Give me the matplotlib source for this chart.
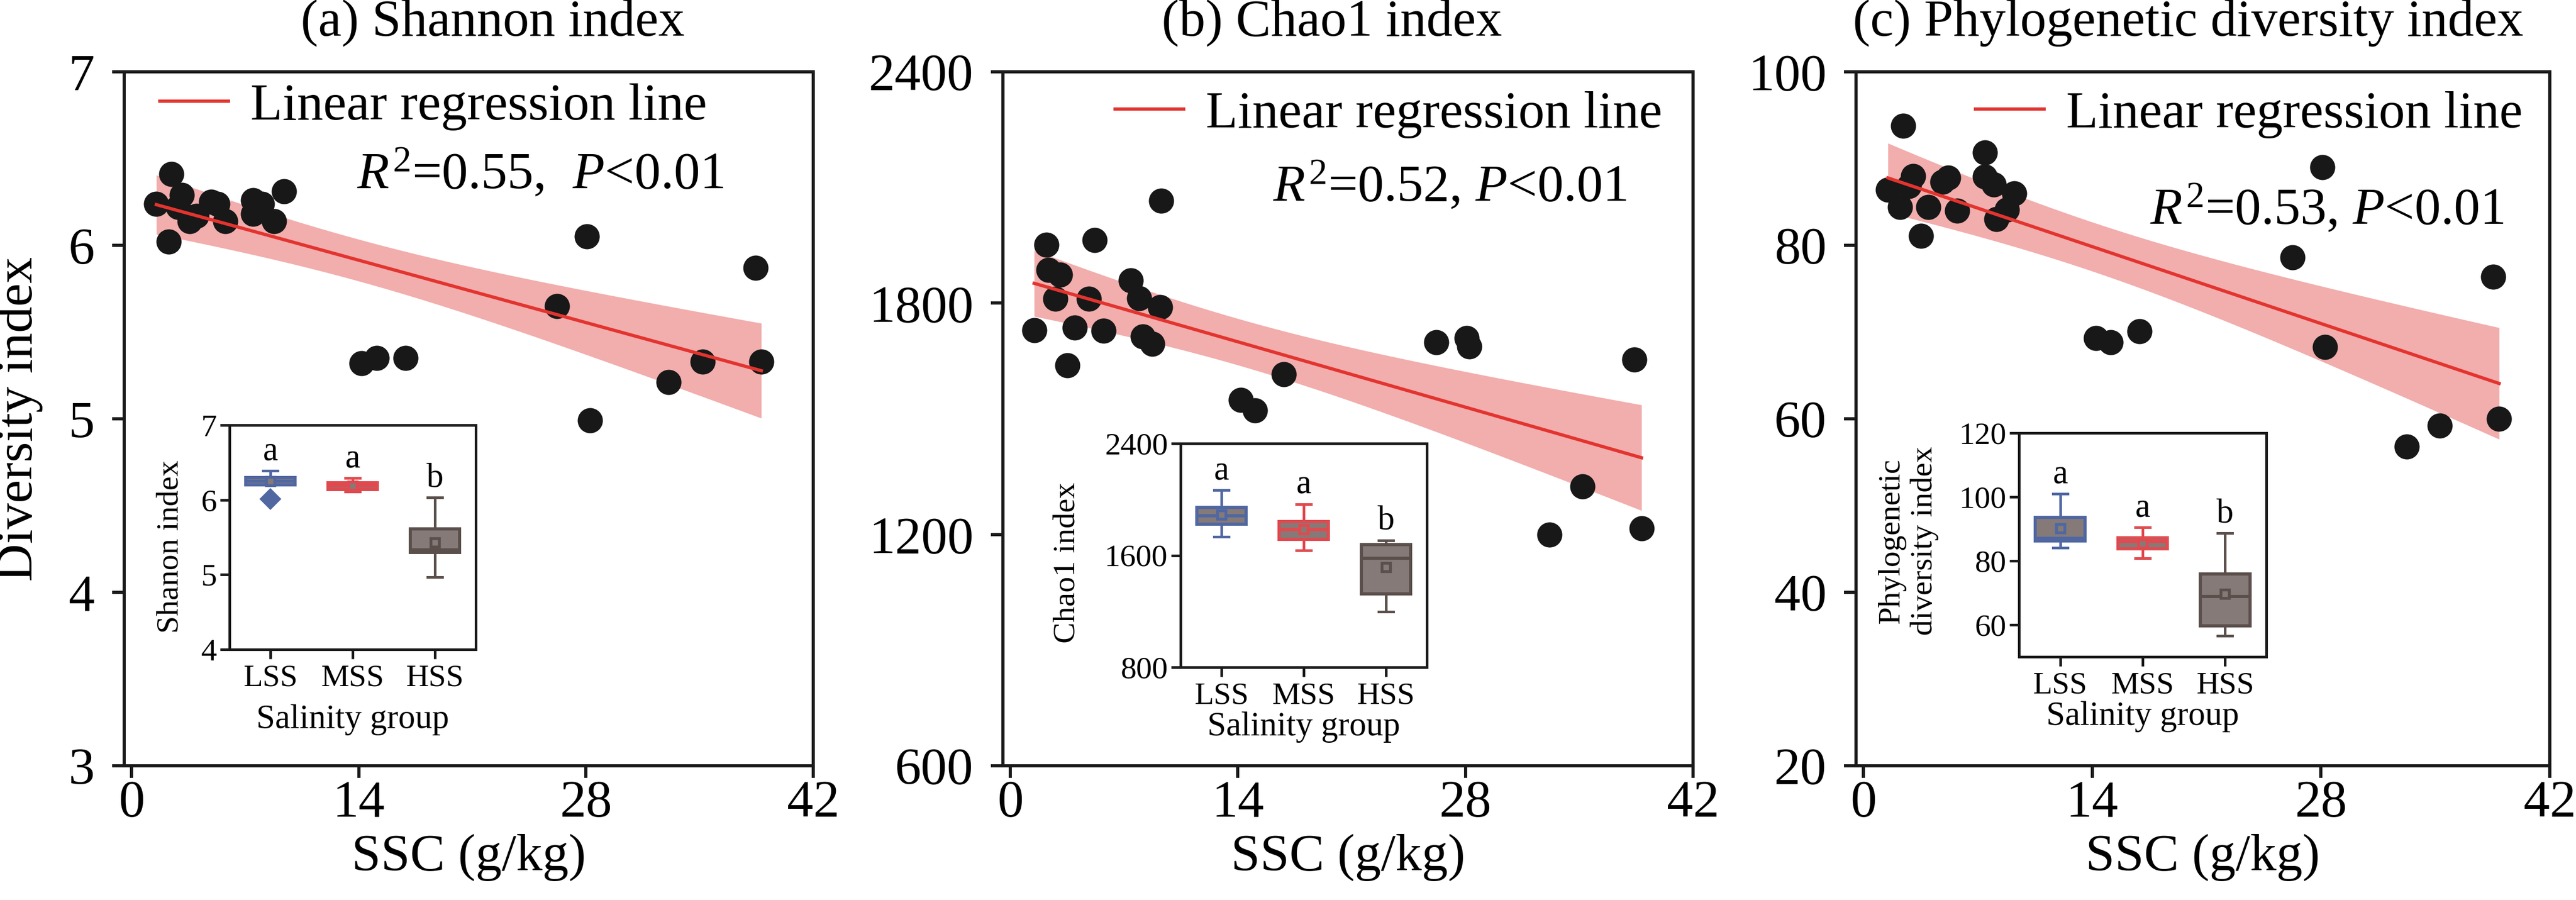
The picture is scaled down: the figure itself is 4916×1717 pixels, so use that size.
import numpy as np
import matplotlib
matplotlib.use("Agg")
import matplotlib.pyplot as plt

plt.rcParams['font.family'] = ['Liberation Serif', 'DejaVu Serif']
plt.rcParams['mathtext.fontset'] = 'custom'
plt.rcParams['mathtext.rm'] = 'Liberation Serif'
plt.rcParams['mathtext.it'] = 'Liberation Serif:italic'

# ---- scatter data (SSC vs index) ----
ssc_a = [2.46, 1.53, 3.09, 2.28, 2.87, 3.57, 4.00, 4.91, 5.29, 5.77, 7.49, 8.03, 7.49, 8.78, 9.38, 7.70,
         14.17, 15.11, 16.87, 26.2, 28.07, 28.24, 33.1, 35.2, 38.46, 38.8]
shannon = [6.41, 6.24, 6.29, 6.02, 6.22, 6.14, 6.17, 6.25, 6.24, 6.14, 6.26, 6.24, 6.18, 6.14, 6.31, 6.20,
           5.32, 5.35, 5.35, 5.65, 6.05, 4.99, 5.21, 5.33, 5.87, 5.33]

ssc_b = [9.29, 2.22, 5.18, 2.37, 3.05, 2.76, 4.84, 7.43, 7.92, 9.22, 1.47, 3.95, 5.73, 8.17, 8.73, 3.51,
         16.83, 14.18, 15.05, 26.2, 28.07, 28.24, 33.17, 35.19, 38.39, 38.83]
chao1 = [2065, 1951, 1963, 1886, 1874, 1812, 1812, 1859, 1813, 1790, 1730, 1737, 1728, 1713, 1695, 1638,
         1616, 1549, 1522, 1699, 1709, 1687, 1199, 1324, 1654, 1216]

ssc_c = [2.42, 7.45, 3.06, 1.50, 4.85, 5.20, 7.45, 7.98, 9.24, 2.23, 3.96, 5.73, 8.78, 8.14, 3.53, 2.79,
         14.25, 15.12, 16.9, 26.27, 28.09, 28.26, 33.24, 35.26, 38.53, 38.9]
pd_index = [93.8, 90.7, 88.0, 86.4, 87.3, 87.8, 87.9, 87.0, 86.0, 84.4, 84.4, 84.0, 84.1, 83.0, 81.1, 86.8,
            69.3, 68.8, 70.1, 78.6, 89.0, 68.3, 56.8, 59.2, 76.4, 60.0]

# ---- inset box statistics: [whislo, q1, med, q3, whishi, mean] for LSS, MSS, HSS ----
groups = ["LSS", "MSS", "HSS"]
letters = ["a", "a", "b"]
shannon_box = [[6.20, 6.20, 6.25, 6.30, 6.39, 6.25],
               [6.11, 6.14, 6.19, 6.23, 6.29, 6.19],
               [4.97, 5.30, 5.33, 5.61, 6.03, 5.43]]
shannon_fliers = [[6.01], [], []]
chao1_box = [[1732, 1822, 1882, 1943, 2067, 1892],
             [1636, 1713, 1786, 1842, 1967, 1786],
             [1198, 1325, 1579, 1678, 1708, 1514]]
pd_box = [[84.1, 86.3, 87.0, 93.6, 101.0, 90.1],
          [80.8, 83.8, 86.0, 87.2, 90.5, 85.4],
          [56.5, 59.6, 68.9, 75.9, 88.7, 69.6]]

box_edge = ['#5067a2', '#e04a4f', '#5a4f4b']
box_face = '#857a77'
red = '#e3342f'
band = '#f2adad'
dot = '#181818'

W, H = 4916, 1717
fig = plt.figure(figsize=(W / 300, H / 300), dpi=300)


def fit_band(x, y, xs):
    # least squares line with 95% confidence band of the mean
    x = np.asarray(x, float)
    y = np.asarray(y, float)
    n = len(x)
    b, a = np.polyfit(x, y, 1)
    yfit = a + b * xs
    s = np.sqrt(np.sum((y - (a + b * x)) ** 2) / (n - 2))
    se = s * np.sqrt(1 / n + (xs - x.mean()) ** 2 / np.sum((x - x.mean()) ** 2))
    return yfit, yfit - 2.07 * se, yfit + 2.07 * se


def main_panel(rect, x, y, ylim, yticks, title, tx, leg_xy, r2, r2_xy):
    ax = fig.add_axes(rect)
    xs = np.linspace(min(x), max(x), 100)
    yfit, lo, hi = fit_band(x, y, xs)
    ax.fill_between(xs, lo, hi, color=band, lw=0, zorder=1)
    ax.scatter(x, y, s=133, color=dot, lw=0, zorder=2)
    line, = ax.plot(xs, yfit, color=red, lw=1.5, zorder=3)
    ax.set_xlim(-0.45, 42)
    ax.set_ylim(*ylim)
    ax.set_xticks([0, 14, 28, 42])
    ax.set_yticks(yticks)
    for sp in ax.spines.values():
        sp.set_linewidth(1.45)
        sp.set_color('#1a1a1a')
    ax.tick_params(direction='out', length=5.5, width=1.45, labelsize=24, color='#1a1a1a')
    ax.tick_params(axis='y', pad=8)
    ax.tick_params(axis='x', pad=1)
    ax.set_xlabel('SSC (g/kg)', fontsize=24, labelpad=3)
    ax.text(tx, 1.052, title, transform=ax.transAxes, ha='center', va='baseline', fontsize=24)
    ax.legend([line], ['Linear regression line'], loc='center left', bbox_to_anchor=leg_xy,
              frameon=False, fontsize=24, handlelength=1.31, handletextpad=0.42,
              borderpad=0, borderaxespad=0)
    ax.text(r2_xy[0], r2_xy[1], r2, transform=ax.transAxes, ha='left', va='baseline', fontsize=24)
    return ax


def inset(rect, stats, fliers, ylim, yticks, ylabel, ylab_xy, xlab_y):
    ax = fig.add_axes(rect, zorder=5)
    ax.set_facecolor('white')
    for i, (st, col) in enumerate(zip(stats, box_edge)):
        d = dict(whislo=st[0], q1=st[1], med=st[2], q3=st[3], whishi=st[4], mean=st[5],
                 fliers=fliers[i] if fliers else [])
        ax.bxp([d], positions=[i + 1], widths=0.6, capwidths=[0.18], patch_artist=True,
               showmeans=True,
               boxprops=dict(facecolor=box_face, edgecolor=col, lw=1.45),
               medianprops=dict(color=col, lw=1.45),
               whiskerprops=dict(color=col, lw=1.2),
               capprops=dict(color=col, lw=1.2),
               meanprops=dict(marker='s', markersize=4, markerfacecolor=box_face,
                              markeredgecolor=col, markeredgewidth=1.3),
               flierprops=dict(marker='D', markersize=6, markerfacecolor=col,
                               markeredgecolor=col))
        ax.annotate(letters[i], (i + 1, st[4]), xytext=(0, 5), textcoords='offset points',
                    ha='center', va='baseline', fontsize=15.5)
    ax.set_xlim(0.5, 3.5)
    ax.set_ylim(*ylim)
    ax.set_yticks(yticks)
    ax.set_xticks([1, 2, 3])
    ax.set_xticklabels(groups)
    for sp in ax.spines.values():
        sp.set_linewidth(1.2)
        sp.set_color('#1a1a1a')
    ax.tick_params(direction='out', length=4.3, width=1.2, labelsize=14.5, color='#1a1a1a')
    ax.tick_params(axis='y', pad=1.5)
    ax.tick_params(axis='x', pad=2.5)
    ax.set_ylabel(ylabel, fontsize=14.5)
    ax.yaxis.set_label_coords(*ylab_xy)
    ax.set_xlabel('Salinity group', fontsize=15.5)
    ax.xaxis.set_label_coords(0.5, xlab_y)
    return ax


ax_a = main_panel([237 / W, 1 - 1461 / H, 1315 / W, 1324 / H], ssc_a, shannon, (3, 7), [3, 4, 5, 6, 7],
                  '(a) Shannon index', 0.535, (0.0517, 0.9494),
                  r'$\mathit{R}^{2}$=0.55,  $\mathit{P}$<0.01', (0.338, 0.8316))
ax_a.set_ylabel('Diversity index', fontsize=24)
ax_a.yaxis.set_label_coords(-0.118, 0.5)

main_panel([1914 / W, 1 - 1461 / H, 1317 / W, 1324 / H], ssc_b, chao1, (600, 2400), [600, 1200, 1800, 2400],
           '(b) Chao1 index', 0.477, (0.1625, 0.9388),
           r'$\mathit{R}^{2}$=0.52, $\mathit{P}$<0.01', (0.3907, 0.8134))

main_panel([3542 / W, 1 - 1461 / H, 1324 / W, 1324 / H], ssc_c, pd_index, (20, 100), [20, 40, 60, 80, 100],
           '(c) Phylogenetic diversity index', 0.479, (0.1722, 0.9388),
           r'$\mathit{R}^{2}$=0.53, $\mathit{P}$<0.01', (0.4237, 0.7802))

inset([438 / W, 1 - 1239 / H, 470 / W, 428 / H], shannon_box, shannon_fliers, (4, 7), [4, 5, 6, 7],
      'Shanon index', (-0.18, 0.458), -0.245)
inset([2253 / W, 1 - 1273 / H, 470 / W, 427 / H], chao1_box, None, (800, 2400), [800, 1600, 2400],
      'Chao1 index', (-0.40, 0.468), -0.197)
inset([3853 / W, 1 - 1253 / H, 472 / W, 427 / H], pd_box, None, (50, 120), [60, 80, 100, 120],
      'Phylogenetic\ndiversity index', (-0.324, 0.518), -0.199)

fig.savefig('out.png', dpi=300)
